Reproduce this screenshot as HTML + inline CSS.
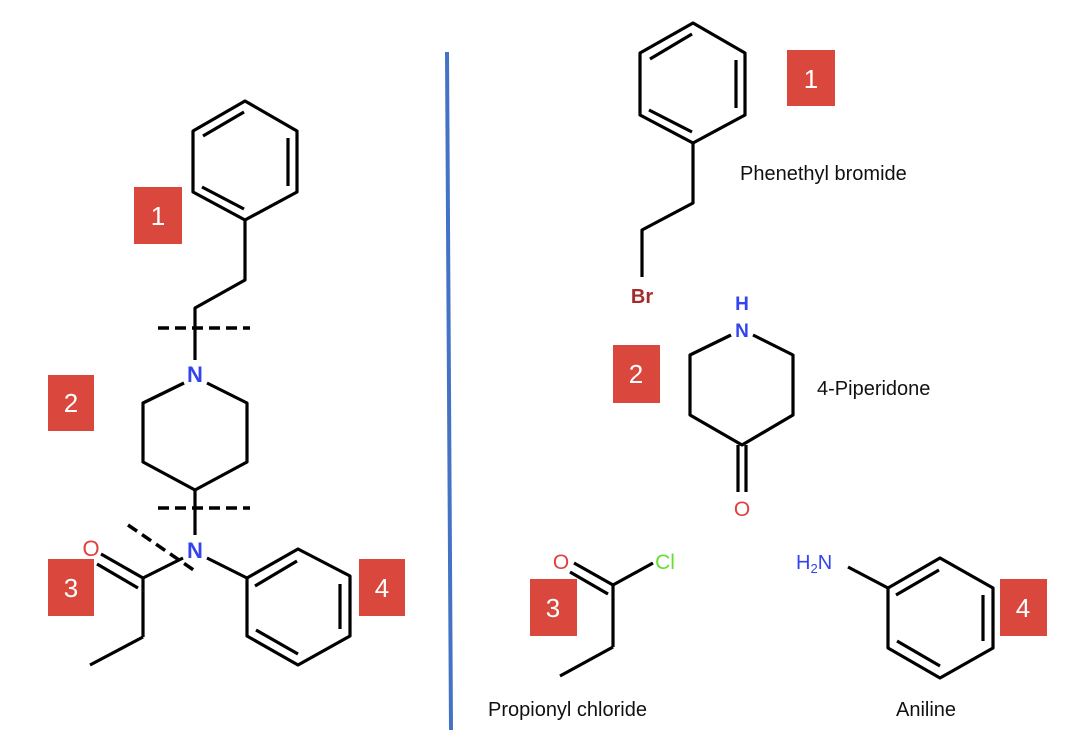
<!DOCTYPE html>
<html><head><meta charset="utf-8"><style>
html,body{margin:0;padding:0;background:#fff;}
svg{display:block;font-family:"Liberation Sans",Arial,sans-serif;}
</style></head><body>
<svg width="1090" height="744" viewBox="0 0 1090 744" xmlns="http://www.w3.org/2000/svg">
<rect width="1090" height="744" fill="#fff"/>
<g stroke="#000" stroke-width="3.2" fill="none" stroke-linejoin="round">
<!-- left top benzene -->
<polygon points="245,101 297,131 297,192 245,220 193,192 193,131"/>
<line x1="244" y1="112" x2="203" y2="136"/>
<line x1="288" y1="138" x2="288" y2="186"/>
<line x1="202" y1="187" x2="244" y2="209"/>
<polyline points="245,220 245,280 195,308 195,360"/>
<!-- piperidine -->
<polyline points="184,383 143,403 143,462 195,490 247,462 247,403 207,383"/>
<line x1="195" y1="490" x2="195" y2="535"/>
<!-- amide -->
<line x1="183" y1="558" x2="143" y2="578"/>
<line x1="143" y1="578" x2="143" y2="637"/>
<line x1="143" y1="637" x2="90" y2="665"/>
<line x1="143" y1="578" x2="101" y2="554"/>
<line x1="138" y1="588" x2="97" y2="564"/>
<!-- right lower benzene -->
<line x1="207" y1="558" x2="247" y2="578"/>
<polygon points="247,578 298,549 350,576 350,636 298,665 247,636"/>
<line x1="255" y1="586" x2="297" y2="561"/>
<line x1="340" y1="584" x2="340" y2="629"/>
<line x1="256" y1="630" x2="298" y2="654"/>
</g>
<g stroke="#000" stroke-width="3.5" stroke-dasharray="11,6">
<line x1="158" y1="328" x2="250" y2="328"/>
<line x1="158" y1="508" x2="250" y2="508"/>
<line x1="128" y1="525" x2="198" y2="573"/>
</g>
<text x="195" y="382" fill="#3344ee" font-size="22" font-weight="bold" text-anchor="middle">N</text>
<text x="195" y="558" fill="#3344ee" font-size="22" font-weight="bold" text-anchor="middle">N</text>
<text x="91" y="556" fill="#e04040" font-size="22" text-anchor="middle">O</text>
<line x1="447" y1="52" x2="451" y2="730" stroke="#4472c4" stroke-width="4"/>
<!-- right: phenethyl bromide -->
<g stroke="#000" stroke-width="3.2" fill="none" stroke-linejoin="round">
<polygon points="693,23 745,53 745,115 693,143 640,115 640,53"/>
<line x1="692" y1="34" x2="650" y2="59"/>
<line x1="736" y1="60" x2="736" y2="108"/>
<line x1="649" y1="110" x2="692" y2="132"/>
<polyline points="693,143 693,203 642,230 642,277"/>
<!-- piperidone -->
<polyline points="731,335 690,355 690,415 742,445 793,415 793,355 753,335"/>
<line x1="738" y1="445" x2="738" y2="492"/>
<line x1="746" y1="445" x2="746" y2="492"/>
<!-- propionyl chloride -->
<line x1="613" y1="585" x2="653" y2="563"/>
<line x1="613" y1="585" x2="613" y2="647"/>
<line x1="613" y1="647" x2="560" y2="676"/>
<line x1="613" y1="585" x2="574" y2="563"/>
<line x1="608" y1="594" x2="570" y2="572"/>
<!-- aniline -->
<line x1="848" y1="567" x2="888" y2="588"/>
<polygon points="888,588 940,558 993,588 993,648 940,678 888,648"/>
<line x1="896" y1="595" x2="939" y2="570"/>
<line x1="983" y1="595" x2="983" y2="641"/>
<line x1="897" y1="641" x2="940" y2="666"/>
</g>
<text x="642" y="303" fill="#a52a2a" font-size="20" font-weight="bold" text-anchor="middle">Br</text>
<text x="742" y="310" fill="#3344ee" font-size="19" font-weight="bold" text-anchor="middle">H</text>
<text x="742" y="337" fill="#3344ee" font-size="19" font-weight="bold" text-anchor="middle">N</text>
<text x="742" y="516" fill="#e04040" font-size="21" text-anchor="middle">O</text>
<text x="561" y="569" fill="#e04040" font-size="21" text-anchor="middle">O</text>
<text x="665" y="569" fill="#66dd33" font-size="21" text-anchor="middle">Cl</text>
<text x="796" y="569" fill="#3344ee" font-size="20">H<tspan font-size="13" dy="4">2</tspan><tspan dy="-4">N</tspan></text>
<g font-size="20" fill="#111">
<text x="740" y="180">Phenethyl bromide</text>
<text x="817" y="395">4-Piperidone</text>
<text x="488" y="716">Propionyl chloride</text>
<text x="896" y="716">Aniline</text>
</g>
<g fill="#d9473d">
<rect x="134" y="187" width="48" height="57"/>
<rect x="48" y="375" width="46" height="56"/>
<rect x="48" y="559" width="46" height="57"/>
<rect x="359" y="559" width="46" height="57"/>
<rect x="787" y="50" width="48" height="56"/>
<rect x="613" y="345" width="47" height="58"/>
<rect x="530" y="579" width="47" height="57"/>
<rect x="1000" y="579" width="47" height="57"/>
</g>
<g fill="#fff" font-size="26" text-anchor="middle">
<text x="158" y="225">1</text>
<text x="71" y="412">2</text>
<text x="71" y="597">3</text>
<text x="382" y="597">4</text>
<text x="811" y="88">1</text>
<text x="636" y="383">2</text>
<text x="553" y="617">3</text>
<text x="1023" y="617">4</text>
</g>
</svg>
</body></html>
